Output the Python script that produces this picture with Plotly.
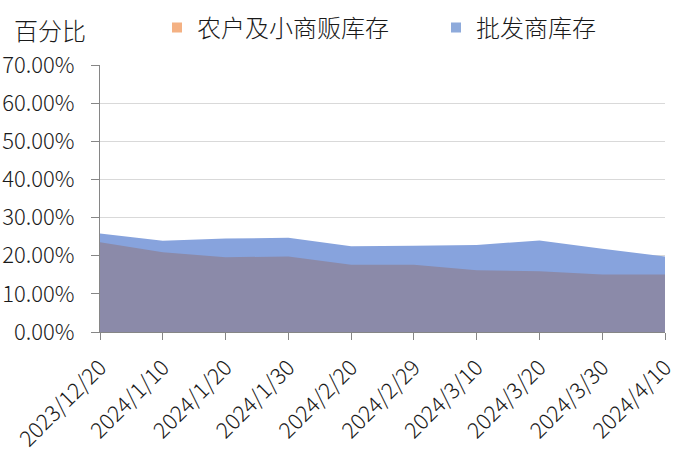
import plotly.graph_objects as go

dates = ["2023/12/20", "2024/1/10", "2024/1/20", "2024/1/30", "2024/2/20",
         "2024/2/29", "2024/3/10", "2024/3/20", "2024/3/30", "2024/4/10"]
farmer = [23.5, 20.9, 19.6, 19.8, 17.6, 17.6, 16.2, 15.9, 15.1, 15.1]
wholesale = [25.8, 23.9, 24.5, 24.7, 22.5, 22.6, 22.8, 24.0, 21.8, 19.8]
farmer_v = [v / 100 for v in farmer]
wholesale_v = [v / 100 for v in wholesale]
yticks = [0, 0.1, 0.2, 0.3, 0.4, 0.5, 0.6, 0.7]
ytick_text = ["0.00%", "10.00%", "20.00%", "30.00%", "40.00%", "50.00%", "60.00%", "70.00%"]

FONT = "Noto Sans CJK SC"
TXT = "#1a1a1a"
LEG_Y = 1 - 28 / 463

fig = go.Figure()
fig.add_trace(go.Scatter(x=dates, y=wholesale_v, mode="none", fill="tozeroy",
                         fillcolor="#87a3dd", showlegend=False, hoverinfo="skip"))
fig.add_trace(go.Scatter(x=dates, y=farmer_v, mode="none", fill="tozeroy",
                         fillcolor="#8b8aa9", showlegend=False, hoverinfo="skip"))
# legend entries
fig.add_trace(go.Scatter(x=[None], y=[None], mode="markers", name="农户及小商贩库存",
                         legend="legend",
                         marker=dict(symbol="square", size=10, color="#f4b183")))
fig.add_trace(go.Scatter(x=[None], y=[None], mode="markers", name="批发商库存",
                         legend="legend2",
                         marker=dict(symbol="square", size=10, color="#8eaadb")))

legfont = dict(size=24, family=FONT, color=TXT, weight=300)
fig.update_layout(
    width=700, height=463,
    margin=dict(l=100, r=35, t=65, b=131, autoexpand=False),
    paper_bgcolor="white", plot_bgcolor="white",
    font=dict(family=FONT, color=TXT, size=22, weight=300),
    legend=dict(orientation="h", x=157 / 700, xref="container", xanchor="left",
                y=LEG_Y, yref="container", yanchor="middle",
                font=legfont, itemwidth=30, bgcolor="rgba(0,0,0,0)"),
    legend2=dict(orientation="h", x=436 / 700, xref="container", xanchor="left",
                 y=LEG_Y, yref="container", yanchor="middle",
                 font=legfont, itemwidth=30, bgcolor="rgba(0,0,0,0)"),
    showlegend=True,
    xaxis=dict(type="category", range=[0, 9], showgrid=False,
               showline=True, linecolor="#868686", linewidth=1,
               ticks="outside", ticklen=7, tickcolor="#868686",
               ticklabelstandoff=6,
               tickangle=-45, tickfont=dict(size=22, family=FONT, color=TXT, weight=300)),
    yaxis=dict(range=[0, 0.7], tickvals=yticks, ticktext=ytick_text,
               showgrid=True, gridcolor="#d9d9d9", gridwidth=1,
               showline=True, linecolor="#868686", linewidth=1,
               ticks="outside", ticklen=8, tickcolor="#868686",
               ticklabelstandoff=12,
               tickfont=dict(size=22, family=FONT, color=TXT, weight=300), zeroline=False),
)
fig.add_annotation(text="百分比", xref="paper", yref="paper",
                   x=-88 / 565, y=1 + 35 / 267, xanchor="left", yanchor="middle",
                   showarrow=False, font=dict(size=24, family=FONT, color=TXT, weight=300))

fig.write_html("out.html")
